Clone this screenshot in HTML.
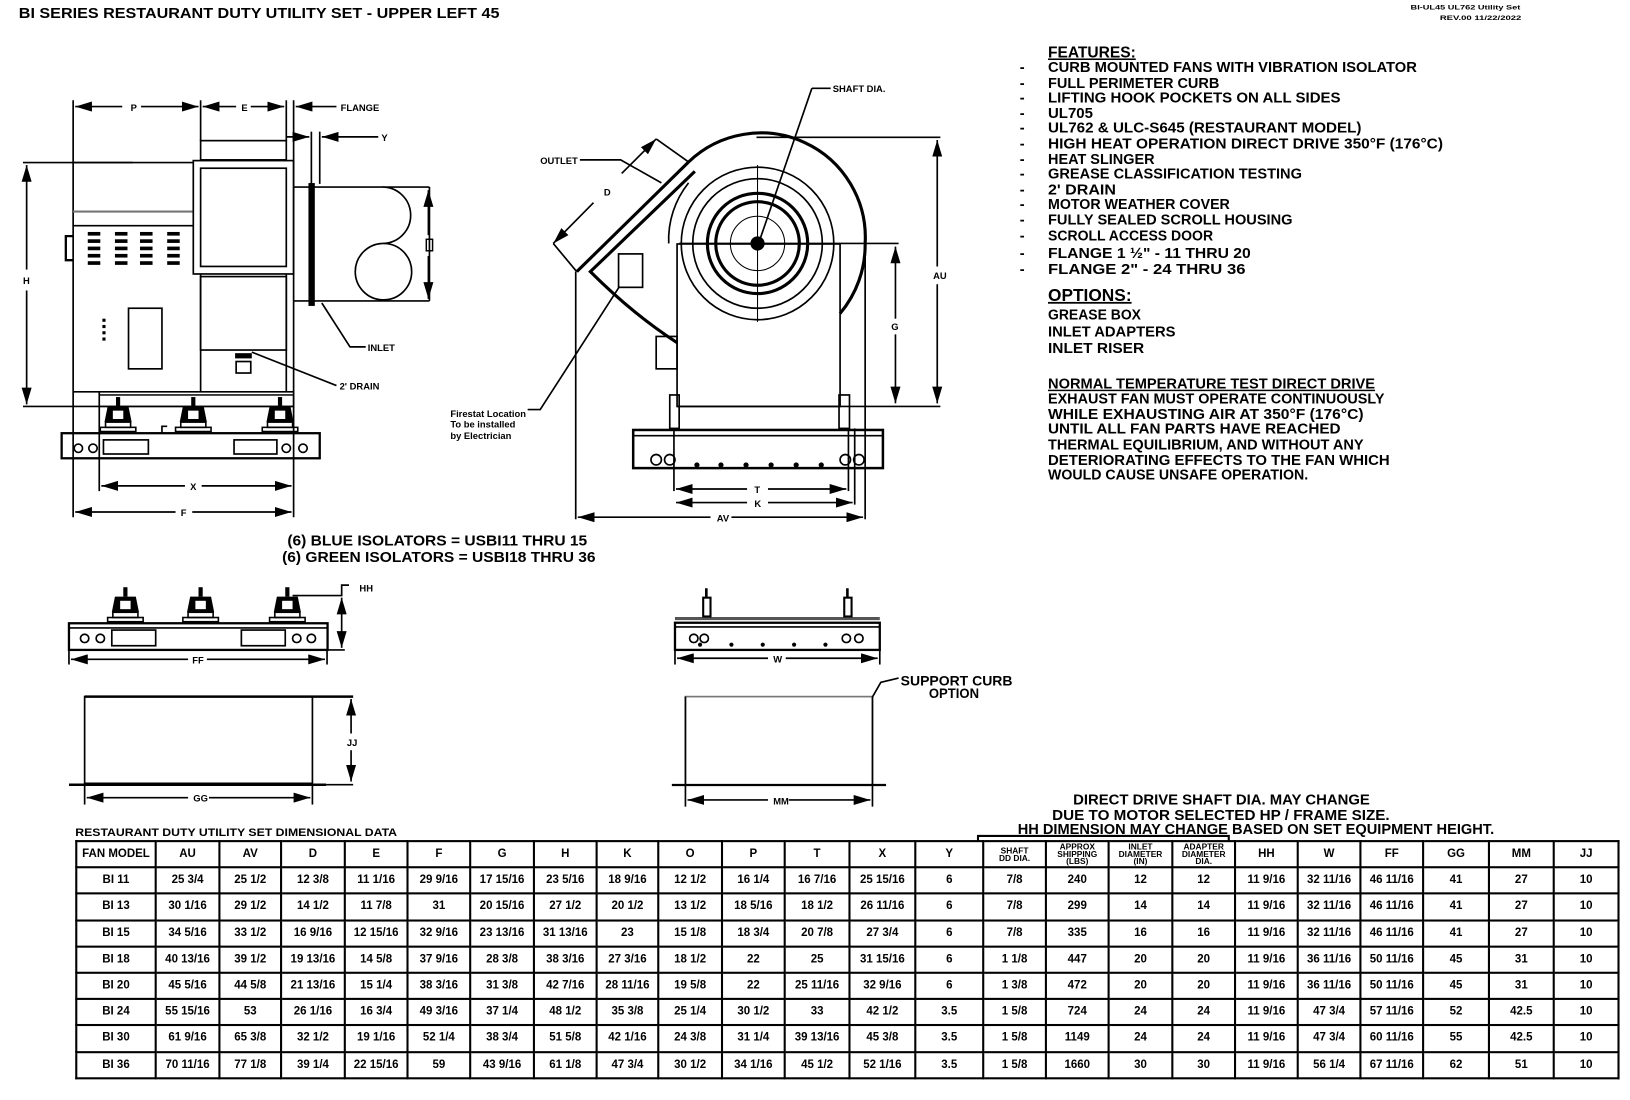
<!DOCTYPE html>
<html><head><meta charset="utf-8"><style>
html,body{margin:0;padding:0;background:#fff;}
body{width:1630px;height:1100px;overflow:hidden;position:relative;}
#c{position:absolute;left:0;top:0;width:1560px;height:1053px;transform:scale(1.04487);transform-origin:0 0;}
svg{position:absolute;left:0;top:0;}
text{font-family:"Liberation Sans Narrow","Liberation Sans",sans-serif;font-weight:bold;fill:#000;}
table{position:absolute;left:72px;top:804px;width:1468px;border-collapse:collapse;table-layout:fixed;font-family:"Liberation Sans Narrow","Liberation Sans",sans-serif;font-weight:bold;font-size:11px;}
td{border:2px solid #000;height:23.2px;padding:0;text-align:center;white-space:nowrap;overflow:hidden;line-height:11px;}
td.h{font-size:8px;line-height:7px;}
</style></head><body><div id="c">
<svg width="1560" height="1053" viewBox="0 0 1560 1053">
<defs>
<g id="iso">
<rect x="-2" y="0" width="4" height="9" fill="#000"/>
<path d="M-10 9 H10 L13 24 H-13 Z" fill="#000"/>
<rect x="-5" y="13" width="10" height="8" fill="#fff"/>
<rect x="-12" y="24" width="24" height="5" fill="none" stroke="#000" stroke-width="1.5"/>
<rect x="-17" y="29" width="34" height="4" fill="none" stroke="#000" stroke-width="1.5"/>
</g>
<marker id="a" markerWidth="10" markerHeight="6" refX="10" refY="3" orient="auto-start-reverse"><path d="M0 0 L10 3 L0 6Z" fill="#000"/></marker>
</defs>
<text x="18" y="17" font-size="14" textLength="460" lengthAdjust="spacingAndGlyphs">BI SERIES RESTAURANT DUTY UTILITY SET - UPPER LEFT 45</text>
<text x="1350" y="9" font-size="6" textLength="105" lengthAdjust="spacingAndGlyphs">BI-UL45 UL762 Utility Set</text>
<text x="1378" y="19" font-size="6" textLength="78" lengthAdjust="spacingAndGlyphs">REV.00  11/22/2022</text>

<g stroke="#000" fill="none" stroke-width="1.6">
<line x1="70" y1="96" x2="70" y2="495"/>
<line x1="192" y1="96" x2="192" y2="135"/>
<line x1="274" y1="96" x2="274" y2="135"/>
<line x1="281" y1="96" x2="281" y2="495"/>
<line x1="298" y1="126" x2="298" y2="176"/>
<line x1="306" y1="126" x2="306" y2="176"/>
<line x1="95" y1="375" x2="95" y2="470"/>
<line x1="72" y1="102" x2="117" y2="102" marker-start="url(#a)"/><line x1="135" y1="102" x2="190" y2="102" marker-end="url(#a)"/>
<line x1="194" y1="102" x2="226" y2="102" marker-start="url(#a)"/><line x1="240" y1="102" x2="272" y2="102" marker-end="url(#a)"/>
<line x1="283" y1="102" x2="322" y2="102" marker-start="url(#a)"/>
<line x1="274" y1="131" x2="296" y2="131" marker-end="url(#a)"/>
<line x1="362" y1="131" x2="308" y2="131" marker-end="url(#a)"/>
<line x1="97" y1="465" x2="177" y2="465" marker-start="url(#a)"/><line x1="193" y1="465" x2="279" y2="465" marker-end="url(#a)"/>
<line x1="72" y1="490" x2="168" y2="490" marker-start="url(#a)"/><line x1="184" y1="490" x2="279" y2="490" marker-end="url(#a)"/>
<line x1="22" y1="155.6" x2="127" y2="155.6"/>
<line x1="22" y1="389" x2="281" y2="389"/>
<line x1="25.5" y1="158" x2="25.5" y2="258" marker-start="url(#a)"/><line x1="25.5" y1="278" x2="25.5" y2="387" marker-end="url(#a)"/>
<line x1="70" y1="155.6" x2="185" y2="155.6"/>
<line x1="70" y1="202.5" x2="185" y2="202.5" stroke="#777" stroke-width="2"/>
<line x1="70" y1="216" x2="185" y2="216"/>
<line x1="70" y1="375" x2="281" y2="375"/>
<path d="M70 226 H63 V249 H70" stroke-width="2.2"/>
<rect x="123" y="295" width="32" height="58"/>
<rect x="192" y="134.6" width="82" height="18.4"/>
<rect x="185" y="153.7" width="96" height="108.5"/>
<rect x="192" y="161" width="82" height="94"/>
<rect x="192" y="264.7" width="82" height="70.3"/>
<line x1="192" y1="262" x2="192" y2="375"/>
<line x1="274" y1="262" x2="274" y2="375"/>
<rect x="226" y="346" width="14" height="11"/>
<path d="M281 179 H365 A27 27 0 0 1 367 233 M281 288 H411 M365 179 H411 M411 179 V288"/>
<circle cx="367" cy="260" r="27"/>
<line x1="410" y1="182" x2="410" y2="225" marker-start="url(#a)"/><line x1="410" y1="245" x2="410" y2="286" marker-end="url(#a)"/>
<rect x="408" y="229" width="6" height="11" stroke-width="1.4"/>
<rect x="296" y="176" width="4.5" height="116" fill="#000"/>
<rect x="95" y="378" width="186" height="11" stroke-width="1.4"/>
<rect x="59" y="414.6" width="247" height="24" stroke-width="2.2"/>
<rect x="99" y="421" width="43" height="13.5"/><rect x="224" y="421" width="41" height="13.5"/>
<circle cx="75" cy="429" r="4"/><circle cx="89" cy="429" r="4"/><circle cx="274" cy="429" r="4"/><circle cx="290" cy="429" r="4"/>
<path d="M155 414 V408 H160"/>
<path d="M308 290 L335 332 H350"/>
<path d="M241 337 L322 369"/>
</g>
<g fill="#000">
<rect x="84" y="222" width="12" height="3.5"/><rect x="110" y="222" width="12" height="3.5"/><rect x="134" y="222" width="12" height="3.5"/><rect x="160" y="222" width="12" height="3.5"/>
<rect x="84" y="229" width="12" height="3.5"/><rect x="110" y="229" width="12" height="3.5"/><rect x="134" y="229" width="12" height="3.5"/><rect x="160" y="229" width="12" height="3.5"/>
<rect x="84" y="236" width="12" height="3.5"/><rect x="110" y="236" width="12" height="3.5"/><rect x="134" y="236" width="12" height="3.5"/><rect x="160" y="236" width="12" height="3.5"/>
<rect x="84" y="243" width="12" height="3.5"/><rect x="110" y="243" width="12" height="3.5"/><rect x="134" y="243" width="12" height="3.5"/><rect x="160" y="243" width="12" height="3.5"/>
<rect x="84" y="250" width="12" height="3.5"/><rect x="110" y="250" width="12" height="3.5"/><rect x="134" y="250" width="12" height="3.5"/><rect x="160" y="250" width="12" height="3.5"/>
<rect x="98" y="305" width="3" height="3"/><rect x="98" y="311" width="3" height="3"/><rect x="98" y="317" width="3" height="3"/><rect x="98" y="323" width="3" height="3"/>
<rect x="225" y="338" width="16" height="5"/>
</g>
<use href="#iso" x="113" y="380"/><use href="#iso" x="185" y="380"/><use href="#iso" x="268" y="380"/>
<g font-size="9">
<text x="125" y="106">P</text><text x="231" y="106">E</text><text x="326" y="106">FLANGE</text><text x="365" y="135">Y</text>
<text x="22" y="272">H</text><text x="182" y="469">X</text><text x="173" y="494">F</text>
<text x="352" y="336">INLET</text><text x="325" y="373">2' DRAIN</text>
</g>

<g stroke="#000" fill="none" stroke-width="1.6">
<path d="M659 155 A100 100 0 0 1 828 233 A102 102 0 0 1 804 300" stroke-width="3"/>
<path d="M640 233 A87 87 0 0 1 659 175"/>
<circle cx="725" cy="233" r="73"/>
<circle cx="725" cy="233" r="62"/>
<circle cx="725" cy="233" r="48" stroke-width="3"/>
<circle cx="725" cy="233" r="40" stroke-width="3"/>
<circle cx="725" cy="233" r="26" stroke-width="1"/>
<circle cx="725" cy="233" r="6" fill="#000"/>
<line x1="725" y1="158" x2="725" y2="308" stroke-width="1"/>
<line x1="650" y1="233" x2="860" y2="233"/>
<path d="M659 155 L552 260" stroke-width="3"/>
<path d="M665 164 L565 260 Q605 300 648 328" stroke-width="3"/>
<line x1="551" y1="260" x2="551" y2="497"/>
<rect x="592" y="243" width="23" height="32"/>
<rect x="628" y="322" width="20" height="31"/>
<path d="M628 133 L659 155 M529.5 233 L552 260"/>
<line x1="628" y1="133" x2="595" y2="166" marker-start="url(#a)"/><line x1="568" y1="194" x2="529.5" y2="233" marker-end="url(#a)"/>
<rect x="648" y="233.5" width="156" height="155.5"/>
<line x1="828" y1="233" x2="828" y2="497"/>
<line x1="724" y1="131.4" x2="900" y2="131.4"/>
<line x1="648" y1="389" x2="900" y2="389"/>
<line x1="897" y1="134" x2="897" y2="255" marker-start="url(#a)"/><line x1="897" y1="272" x2="897" y2="386" marker-end="url(#a)"/>
<line x1="857" y1="236" x2="857" y2="305" marker-start="url(#a)"/><line x1="857" y1="320" x2="857" y2="386" marker-end="url(#a)"/>
<rect x="641" y="378" width="9" height="32"/><rect x="803" y="378" width="10" height="32"/>
<line x1="645" y1="410" x2="645" y2="470"/><line x1="812" y1="410" x2="812" y2="470"/><line x1="818" y1="410" x2="818" y2="483"/>
<rect x="606" y="411.5" width="239" height="36.5" stroke-width="2.4"/>
<line x1="606" y1="417" x2="845" y2="417"/>
<circle cx="628" cy="440" r="5"/><circle cx="641" cy="440" r="5"/><circle cx="809" cy="440" r="5"/><circle cx="822" cy="440" r="5"/>
<line x1="647" y1="468" x2="715" y2="468" marker-start="url(#a)"/><line x1="735" y1="468" x2="810" y2="468" marker-end="url(#a)"/>
<line x1="647" y1="481" x2="715" y2="481" marker-start="url(#a)"/><line x1="735" y1="481" x2="816" y2="481" marker-end="url(#a)"/>
<line x1="553" y1="495" x2="680" y2="495" marker-start="url(#a)"/><line x1="700" y1="495" x2="826" y2="495" marker-end="url(#a)"/>
<path d="M777 84.5 H795 M777 84.5 L727 230"/>
<path d="M555 153 H594 L633 175"/>
<path d="M593 274 L517 392 H505"/>
</g>
<g fill="#000">
<circle cx="667" cy="445" r="2.5"/><circle cx="690" cy="445" r="2.5"/><circle cx="714" cy="445" r="2.5"/><circle cx="738" cy="445" r="2.5"/><circle cx="762" cy="445" r="2.5"/><circle cx="786" cy="445" r="2.5"/>
</g>
<g font-size="9">
<text x="797" y="88">SHAFT DIA.</text><text x="517" y="157">OUTLET</text><text x="578" y="187">D</text>
<text x="893" y="267">AU</text><text x="853" y="316">G</text>
<text x="722" y="472">T</text><text x="722" y="485">K</text><text x="686" y="499">AV</text>
<text x="431" y="399">Firestat Location</text><text x="431" y="409">To be installed</text><text x="431" y="420">by Electrician</text>
</g>

<text x="275" y="522" font-size="14" textLength="287" lengthAdjust="spacingAndGlyphs">(6) BLUE ISOLATORS = USBI11 THRU 15</text>
<text x="270" y="538" font-size="14" textLength="300" lengthAdjust="spacingAndGlyphs">(6) GREEN ISOLATORS = USBI18 THRU 36</text>

<g stroke="#000" fill="none" stroke-width="1.6">
<rect x="66" y="596.5" width="247.5" height="25.5" stroke-width="2.2"/>
<line x1="66" y1="601" x2="313" y2="601"/>
<rect x="107" y="603" width="42" height="15"/><rect x="231" y="603" width="42" height="15"/>
<circle cx="81" cy="611" r="4"/><circle cx="96" cy="611" r="4"/><circle cx="284" cy="611" r="4"/><circle cx="298" cy="611" r="4"/>
<line x1="66" y1="622" x2="66" y2="636"/><line x1="313" y1="622" x2="313" y2="636"/>
<line x1="68" y1="631" x2="180" y2="631" marker-start="url(#a)"/><line x1="198" y1="631" x2="311" y2="631" marker-end="url(#a)"/>
<path d="M280 570 H327 V560 H334"/>
<line x1="327" y1="572" x2="327" y2="620" marker-start="url(#a)" marker-end="url(#a)"/>
<line x1="313" y1="622" x2="330" y2="622"/>
<line x1="81" y1="666.7" x2="338" y2="666.7" stroke-width="2.4"/>
<rect x="81" y="666.7" width="218" height="83"/>
<line x1="66" y1="751" x2="312" y2="751" stroke-width="2.4"/>
<line x1="338" y1="751" x2="300" y2="751"/>
<line x1="336" y1="669" x2="336" y2="702" marker-start="url(#a)"/><line x1="336" y1="718" x2="336" y2="748" marker-end="url(#a)"/>
<line x1="83" y1="763.4" x2="180" y2="763.4" marker-start="url(#a)"/><line x1="200" y1="763.4" x2="297" y2="763.4" marker-end="url(#a)"/>
<line x1="81" y1="751" x2="81" y2="770"/><line x1="299" y1="751" x2="299" y2="770"/>
</g>
<use href="#iso" x="120" y="562"/><use href="#iso" x="192" y="562"/><use href="#iso" x="275" y="562"/>
<g font-size="9"><text x="344" y="566">HH</text><text x="184" y="635">FF</text><text x="332" y="714">JJ</text><text x="185" y="767">GG</text></g>

<g stroke="#000" fill="none" stroke-width="1.6">
<rect x="646" y="596" width="196" height="26" stroke-width="2.2"/>
<line x1="646" y1="592" x2="842" y2="592" stroke="#555" stroke-width="3"/>
<line x1="646" y1="600" x2="842" y2="600"/>
<circle cx="664" cy="611" r="4"/><circle cx="674" cy="611" r="4"/><circle cx="810" cy="611" r="4"/><circle cx="822" cy="611" r="4"/>
<rect x="673" y="572" width="7" height="18" stroke-width="2"/><rect x="808" y="572" width="7" height="18" stroke-width="2"/>
<line x1="676" y1="563" x2="676" y2="572" stroke-width="2.5"/><line x1="811" y1="563" x2="811" y2="572" stroke-width="2.5"/>
<line x1="646" y1="622" x2="646" y2="636"/><line x1="842" y1="622" x2="842" y2="636"/>
<line x1="648" y1="630" x2="735" y2="630" marker-start="url(#a)"/><line x1="752" y1="630" x2="840" y2="630" marker-end="url(#a)"/>
<rect x="656" y="666.7" width="179" height="84.6" stroke="#777"/>
<line x1="656" y1="666.7" x2="656" y2="751.3"/><line x1="835" y1="666.7" x2="835" y2="751.3"/>
<line x1="643" y1="751.3" x2="848" y2="751.3" stroke-width="2.2"/>
<line x1="656" y1="751" x2="656" y2="772"/><line x1="835" y1="751" x2="835" y2="772"/>
<line x1="658" y1="765.6" x2="735" y2="765.6" marker-start="url(#a)"/><line x1="755" y1="765.6" x2="833" y2="765.6" marker-end="url(#a)"/>
<path d="M835 667 L843 653 L860 649"/>
</g>
<g fill="#000"><circle cx="670" cy="617" r="2"/><circle cx="700" cy="617" r="2"/><circle cx="730" cy="617" r="2"/><circle cx="760" cy="617" r="2"/><circle cx="790" cy="617" r="2"/></g>
<g font-size="9"><text x="740" y="634">W</text><text x="740" y="770">MM</text></g>
<text x="862" y="656" font-size="13" textLength="107" lengthAdjust="spacingAndGlyphs">SUPPORT CURB</text>
<text x="889" y="668" font-size="13" textLength="48" lengthAdjust="spacingAndGlyphs">OPTION</text>

<g font-size="14">
<text x="1003" y="55" font-size="15" text-decoration="underline" textLength="84" lengthAdjust="spacingAndGlyphs">FEATURES:</text>
<text x="976" y="69">-</text><text x="1003" y="69" textLength="353" lengthAdjust="spacingAndGlyphs">CURB MOUNTED FANS WITH VIBRATION ISOLATOR</text>
<text x="976" y="84">-</text><text x="1003" y="84" textLength="164" lengthAdjust="spacingAndGlyphs">FULL PERIMETER CURB</text>
<text x="976" y="98">-</text><text x="1003" y="98" textLength="280" lengthAdjust="spacingAndGlyphs">LIFTING HOOK POCKETS ON ALL SIDES</text>
<text x="976" y="113">-</text><text x="1003" y="113" textLength="43" lengthAdjust="spacingAndGlyphs">UL705</text>
<text x="976" y="127">-</text><text x="1003" y="127" textLength="300" lengthAdjust="spacingAndGlyphs">UL762 &amp; ULC-S645 (RESTAURANT MODEL)</text>
<text x="976" y="142">-</text><text x="1003" y="142" textLength="378" lengthAdjust="spacingAndGlyphs">HIGH HEAT OPERATION DIRECT DRIVE 350°F (176°C)</text>
<text x="976" y="157">-</text><text x="1003" y="157" textLength="102" lengthAdjust="spacingAndGlyphs">HEAT SLINGER</text>
<text x="976" y="171">-</text><text x="1003" y="171" textLength="243" lengthAdjust="spacingAndGlyphs">GREASE CLASSIFICATION TESTING</text>
<text x="976" y="186">-</text><text x="1003" y="186" textLength="65" lengthAdjust="spacingAndGlyphs">2' DRAIN</text>
<text x="976" y="200">-</text><text x="1003" y="200" textLength="174" lengthAdjust="spacingAndGlyphs">MOTOR WEATHER COVER</text>
<text x="976" y="215">-</text><text x="1003" y="215" textLength="234" lengthAdjust="spacingAndGlyphs">FULLY SEALED SCROLL HOUSING</text>
<text x="976" y="230">-</text><text x="1003" y="230" textLength="158" lengthAdjust="spacingAndGlyphs">SCROLL ACCESS DOOR</text>
<text x="976" y="247">-</text><text x="1003" y="247" textLength="194" lengthAdjust="spacingAndGlyphs">FLANGE 1 ½" - 11 THRU 20</text>
<text x="976" y="262">-</text><text x="1003" y="262" textLength="189" lengthAdjust="spacingAndGlyphs">FLANGE 2" - 24 THRU 36</text>
<text x="1003" y="288" font-size="17" text-decoration="underline" textLength="80" lengthAdjust="spacingAndGlyphs">OPTIONS:</text>
<text x="1003" y="306" textLength="89" lengthAdjust="spacingAndGlyphs">GREASE BOX</text>
<text x="1003" y="322" textLength="122" lengthAdjust="spacingAndGlyphs">INLET ADAPTERS</text>
<text x="1003" y="338" textLength="92" lengthAdjust="spacingAndGlyphs">INLET RISER</text>
<text x="1003" y="372" text-decoration="underline" textLength="313" lengthAdjust="spacingAndGlyphs">NORMAL TEMPERATURE TEST DIRECT DRIVE</text>
<text x="1003" y="386" textLength="322" lengthAdjust="spacingAndGlyphs">EXHAUST FAN MUST OPERATE CONTINUOUSLY</text>
<text x="1003" y="401" textLength="302" lengthAdjust="spacingAndGlyphs">WHILE EXHAUSTING AIR AT 350°F (176°C)</text>
<text x="1003" y="415" textLength="280" lengthAdjust="spacingAndGlyphs">UNTIL ALL FAN PARTS HAVE REACHED</text>
<text x="1003" y="430" textLength="302" lengthAdjust="spacingAndGlyphs">THERMAL EQUILIBRIUM, AND WITHOUT ANY</text>
<text x="1003" y="445" textLength="327" lengthAdjust="spacingAndGlyphs">DETERIORATING EFFECTS TO THE FAN WHICH</text>
<text x="1003" y="459" textLength="249" lengthAdjust="spacingAndGlyphs">WOULD CAUSE UNSAFE OPERATION.</text>
</g>

<g font-size="14">
<text x="1027" y="770" textLength="284" lengthAdjust="spacingAndGlyphs">DIRECT DRIVE SHAFT DIA. MAY CHANGE</text>
<text x="1007" y="785" textLength="323" lengthAdjust="spacingAndGlyphs">DUE TO MOTOR SELECTED HP / FRAME SIZE.</text>
<text x="974" y="798" textLength="456" lengthAdjust="spacingAndGlyphs">HH DIMENSION MAY CHANGE BASED ON SET EQUIPMENT HEIGHT.</text>
</g>
<text x="72" y="800" font-size="11" textLength="308" lengthAdjust="spacingAndGlyphs">RESTAURANT DUTY UTILITY SET DIMENSIONAL DATA</text>
<path d="M936 805 V800 H1176 V805" stroke="#000" stroke-width="2" fill="none"/>
</svg>

<table>
<colgroup><col style="width:76px"><col style="width:61px"><col style="width:59px"><col style="width:61px"><col style="width:60px"><col style="width:60px"><col style="width:61px"><col style="width:60px"><col style="width:59px"><col style="width:61px"><col style="width:60px"><col style="width:62px"><col style="width:63px"><col style="width:65px"><col style="width:60px"><col style="width:60px"><col style="width:61px"><col style="width:60px"><col style="width:60px"><col style="width:60px"><col style="width:60px"><col style="width:63px"><col style="width:62px"><col style="width:62px"></colgroup>
<tr><td>FAN MODEL</td><td>AU</td><td>AV</td><td>D</td><td>E</td><td>F</td><td>G</td><td>H</td><td>K</td><td>O</td><td>P</td><td>T</td><td>X</td><td>Y</td><td class="h">SHAFT<br>DD DIA.</td><td class="h">APPROX<br>SHIPPING<br>(LBS)</td><td class="h">INLET<br>DIAMETER<br>(IN)</td><td class="h">ADAPTER<br>DIAMETER<br>DIA.</td><td>HH</td><td>W</td><td>FF</td><td>GG</td><td>MM</td><td>JJ</td></tr>
<tr><td>BI 11</td><td>25 3/4</td><td>25 1/2</td><td>12 3/8</td><td>11 1/16</td><td>29 9/16</td><td>17 15/16</td><td>23 5/16</td><td>18 9/16</td><td>12 1/2</td><td>16 1/4</td><td>16 7/16</td><td>25 15/16</td><td>6</td><td>7/8</td><td>240</td><td>12</td><td>12</td><td>11 9/16</td><td>32 11/16</td><td>46 11/16</td><td>41</td><td>27</td><td>10</td></tr>
<tr><td>BI 13</td><td>30 1/16</td><td>29 1/2</td><td>14 1/2</td><td>11 7/8</td><td>31</td><td>20 15/16</td><td>27 1/2</td><td>20 1/2</td><td>13 1/2</td><td>18 5/16</td><td>18 1/2</td><td>26 11/16</td><td>6</td><td>7/8</td><td>299</td><td>14</td><td>14</td><td>11 9/16</td><td>32 11/16</td><td>46 11/16</td><td>41</td><td>27</td><td>10</td></tr>
<tr><td>BI 15</td><td>34 5/16</td><td>33 1/2</td><td>16 9/16</td><td>12 15/16</td><td>32 9/16</td><td>23 13/16</td><td>31 13/16</td><td>23</td><td>15 1/8</td><td>18 3/4</td><td>20 7/8</td><td>27 3/4</td><td>6</td><td>7/8</td><td>335</td><td>16</td><td>16</td><td>11 9/16</td><td>32 11/16</td><td>46 11/16</td><td>41</td><td>27</td><td>10</td></tr>
<tr><td>BI 18</td><td>40 13/16</td><td>39 1/2</td><td>19 13/16</td><td>14 5/8</td><td>37 9/16</td><td>28 3/8</td><td>38 3/16</td><td>27 3/16</td><td>18 1/2</td><td>22</td><td>25</td><td>31 15/16</td><td>6</td><td>1 1/8</td><td>447</td><td>20</td><td>20</td><td>11 9/16</td><td>36 11/16</td><td>50 11/16</td><td>45</td><td>31</td><td>10</td></tr>
<tr><td>BI 20</td><td>45 5/16</td><td>44 5/8</td><td>21 13/16</td><td>15 1/4</td><td>38 3/16</td><td>31 3/8</td><td>42 7/16</td><td>28 11/16</td><td>19 5/8</td><td>22</td><td>25 11/16</td><td>32 9/16</td><td>6</td><td>1 3/8</td><td>472</td><td>20</td><td>20</td><td>11 9/16</td><td>36 11/16</td><td>50 11/16</td><td>45</td><td>31</td><td>10</td></tr>
<tr><td>BI 24</td><td>55 15/16</td><td>53</td><td>26 1/16</td><td>16 3/4</td><td>49 3/16</td><td>37 1/4</td><td>48 1/2</td><td>35 3/8</td><td>25 1/4</td><td>30 1/2</td><td>33</td><td>42 1/2</td><td>3.5</td><td>1 5/8</td><td>724</td><td>24</td><td>24</td><td>11 9/16</td><td>47 3/4</td><td>57 11/16</td><td>52</td><td>42.5</td><td>10</td></tr>
<tr><td>BI 30</td><td>61 9/16</td><td>65 3/8</td><td>32 1/2</td><td>19 1/16</td><td>52 1/4</td><td>38 3/4</td><td>51 5/8</td><td>42 1/16</td><td>24 3/8</td><td>31 1/4</td><td>39 13/16</td><td>45 3/8</td><td>3.5</td><td>1 5/8</td><td>1149</td><td>24</td><td>24</td><td>11 9/16</td><td>47 3/4</td><td>60 11/16</td><td>55</td><td>42.5</td><td>10</td></tr>
<tr><td>BI 36</td><td>70 11/16</td><td>77 1/8</td><td>39 1/4</td><td>22 15/16</td><td>59</td><td>43 9/16</td><td>61 1/8</td><td>47 3/4</td><td>30 1/2</td><td>34 1/16</td><td>45 1/2</td><td>52 1/16</td><td>3.5</td><td>1 5/8</td><td>1660</td><td>30</td><td>30</td><td>11 9/16</td><td>56 1/4</td><td>67 11/16</td><td>62</td><td>51</td><td>10</td></tr>
</table>
</div></body></html>
